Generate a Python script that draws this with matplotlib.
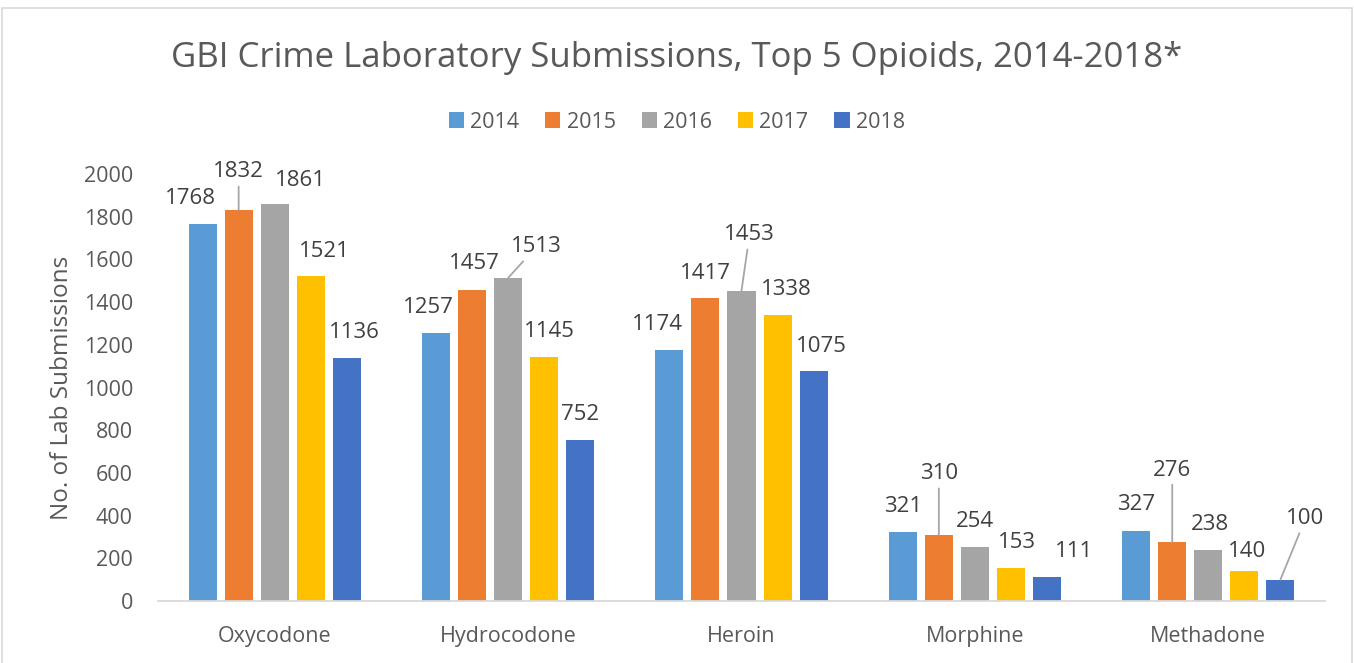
import numpy as np
import matplotlib
matplotlib.use("Agg")
import matplotlib.pyplot as plt
from matplotlib.patches import Rectangle

# Données
drugs = ["Oxycodone", "Hydrocodone", "Heroin", "Morphine", "Methadone"]
years = ["2014", "2015", "2016", "2017", "2018"]
v2014 = [1768, 1257, 1174, 321, 327]
v2015 = [1832, 1457, 1417, 310, 276]
v2016 = [1861, 1513, 1453, 254, 238]
v2017 = [1521, 1145, 1338, 153, 140]
v2018 = [1136, 752, 1075, 111, 100]
series = [v2014, v2015, v2016, v2017, v2018]

colors = ["#5B9BD5", "#ED7D31", "#A5A5A5", "#FFC000", "#4472C4"]

# décalage des étiquettes (pixels), comme déplacées à la main dans Excel
label_offsets = [
    [(-12, 25), (-8, 25), (-12, 26), (0, 26), (0, 27)],
    [(0, 38), (2, 26), (0, 25), (0, 61), (0, 72)],
    [(26, 23), (28, 31), (8, 56), (0, 25), (2, 26)],
    [(14, 25), (5, 25), (9, 26), (6, 26), (3, 20)],
    [(8, 26), (0, 26), (8, 25), (27, 26), (25, 61)],
]
leaders = {(1, 0), (2, 1), (2, 2), (1, 3), (1, 4), (4, 4)}

plt.rcParams["font.family"] = ["Open Sans", "DejaVu Sans"]
txt = "#595959"

fig = plt.figure(figsize=(13.54, 6.63), dpi=100)
fig.patches.append(Rectangle((2 / 1354, -0.01), 1350 / 1354, 1 - 8 / 663 + 0.01,
                             transform=fig.transFigure, fill=False,
                             edgecolor="#D9D9D9", linewidth=1.2))
ax = fig.add_axes([158 / 1354, 1 - 601 / 663, (1325 - 158) / 1354, (601 - 174) / 663])

x = np.arange(len(drugs))
step, width = 0.1545, 0.12
for j, vals in enumerate(series):
    xs = x + (j - 2) * step
    ax.bar(xs, vals, width=width, color=colors[j], label=years[j], zorder=2)
    for i, v in enumerate(vals):
        dx, dy = label_offsets[j][i]
        kw = {}
        if (j, i) in leaders:
            kw["arrowprops"] = dict(arrowstyle="-", color="#A6A6A6", lw=1.3,
                                    shrinkA=1, shrinkB=0)
        ax.annotate(str(v), xy=(xs[i], v), xytext=(dx, dy),
                    textcoords="offset pixels", ha="center", va="center",
                    fontsize=16, color="#404040", **kw)

ax.set_xlim(-0.5, 4.5)
ax.set_ylim(0, 2000)
ax.set_yticks(range(0, 2001, 200))
ax.set_xticks(x)
ax.set_xticklabels(drugs)
ax.tick_params(axis="both", length=0, labelsize=15.5, labelcolor=txt)
ax.tick_params(axis="y", pad=18)
ax.tick_params(axis="x", pad=18)
for s in ["top", "right", "left"]:
    ax.spines[s].set_visible(False)
ax.spines["bottom"].set_color("#D9D9D9")
ax.spines["bottom"].set_linewidth(1.3)
ax.set_ylabel("No. of Lab Submissions", fontsize=17.5, color=txt, labelpad=7)

fig.text(0.5, 1 - 58 / 663, "GBI Crime Laboratory Submissions, Top 5 Opioids, 2014-2018*",
         ha="center", va="center", fontsize=25, color=txt)
fig.legend(loc="center", bbox_to_anchor=(0.5, 1 - 122 / 663), ncol=5, frameon=False,
           fontsize=15.5, labelcolor=txt, handlelength=0.7, handleheight=0.8,
           handletextpad=0.3, columnspacing=1.2)

fig.savefig("out.png", dpi=100)
plt.close(fig)
